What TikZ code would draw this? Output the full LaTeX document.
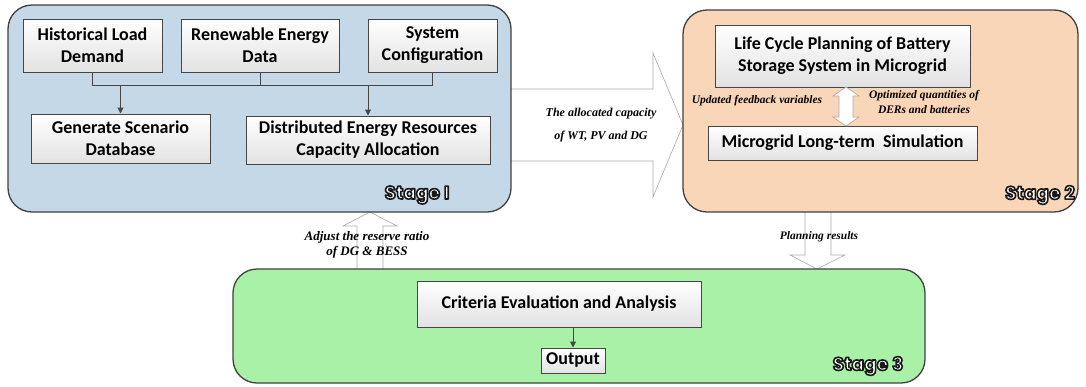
\documentclass[tikz,border=0pt]{standalone}
\usepackage{fontspec}
\setmainfont{Carlito}
\newfontfamily\notefont{Liberation Serif}
\newfontfamily\stagefont{Poppins}
\usetikzlibrary{arrows.meta}

\definecolor{stageonefill}{RGB}{197,216,232}
\definecolor{stagetwofill}{RGB}{249,214,184}
\definecolor{stagethreefill}{RGB}{170,241,168}
\definecolor{stageline}{RGB}{64,64,64}
\definecolor{boxline}{RGB}{70,70,70}
\definecolor{boxgray}{RGB}{226,226,226}
\definecolor{arrowline}{RGB}{170,170,170}

% white lettering with a dark outline for the stage tags
% (fill+stroke text rendering; the node scope restores the graphics state)
\newcommand{\stagetag}[1]{\special{pdf:literal direct 2 Tr 1.6 w 1 j 0.1 0.1 0.1 RG 1 1 1 rg}#1}

\begin{document}
\begin{tikzpicture}[x=1pt,y=-1pt,
  stagebox/.style={draw=stageline, line width=1.3pt, rounded corners=24pt},
  box/.style={draw=boxline, line width=1pt, top color=white, bottom color=boxgray,
    font=\bfseries\fontsize{18}{22}\selectfont, align=center, inner sep=0pt},
  conn/.style={draw=boxline, line width=1pt},
  conna/.style={conn, -{Triangle[length=6pt,width=6pt]}},
  bigarrow/.style={draw=arrowline, line width=0.6pt, fill=white},
  note/.style={font=\notefont\bfseries\itshape\fontsize{11.5}{15}\selectfont, align=center, inner sep=0pt},
  stagelbl/.style={font=\stagefont\bfseries\fontsize{18.5}{20}\selectfont, inner sep=0pt}]

\useasboundingbox (0,0) rectangle (1086,386);

% ---------- wide hollow arrows between the stages ----------
\draw[bigarrow] (505,89) -- (653,89) -- (653,53) -- (683,125) -- (653,197) -- (653,161) -- (505,161);
\draw[bigarrow] (357,275) -- (357,226) -- (343,226) -- (370,212) -- (397,226) -- (383,226) -- (383,275);
\draw[bigarrow] (805,206) -- (805,255) -- (790,255) -- (817,269) -- (845,255) -- (831,255) -- (831,206);

% ---------- stage containers ----------
\draw[stagebox, fill=stageonefill] (8,5) rectangle (511,212);
\draw[stagebox, fill=stagetwofill] (683,10) rectangle (1078,212);
\draw[stagebox, fill=stagethreefill] (233,269) rectangle (925,383);

% ---------- stage 1 ----------
\node[box, minimum width=139pt, minimum height=53pt] (hist) at (92.5,45.5) {Historical Load\\Demand};
\node[box, minimum width=158pt, minimum height=53pt] (ren) at (260,45.5) {Renewable Energy\\Data};
\node[box, minimum width=129pt, minimum height=53pt] (sys) at (432.5,45.5) {System\\Configuration};
\node[box, minimum width=179pt, minimum height=49pt] (gen) at (120.5,138.5) {Generate Scenario\\Database};
\node[box, minimum width=244pt, minimum height=48pt] (der) at (368,140) {Distributed Energy Resources\\Capacity Allocation};

\coordinate (bus) at (0,85);
\draw[conn] (hist.south) -- (hist.south |- bus) -- (sys.south |- bus) -- (sys.south);
\draw[conn] (ren.south) -- (ren.south |- bus);
\draw[conna] (gen.north |- bus) -- (gen.north);
\draw[conna] (der.north |- bus) -- (der.north);

\node[stagelbl] (s1) at (417,195) {\stagetag{Stage I}};

% ---------- stage 2 ----------
\node[box, minimum width=255pt, minimum height=62pt] (lcp) at (842.5,56) {Life Cycle Planning of Battery\\Storage System in Microgrid};
\node[box, minimum width=269pt, minimum height=34pt] (sim) at (842.5,143) {Microgrid Long-term\ \ Simulation};

\coordinate (dtop) at (846,87);
\coordinate (dbot) at (846,126);
\draw[bigarrow] (dtop) -- ++(13,9) -- ++(-6,0) -- ++(0,21) -- ++(6,0) -- (dbot)
  -- ++(-13,-9) -- ++(6,0) -- ++(0,-21) -- ++(-6,0) -- cycle;

\node[note] (fb) at (757,101) {Updated feedback variables};
\node[note] (opt) at (924,102) {Optimized quantities of\\DERs and batteries};

\node[stagelbl] (s2) at (1040,195) {\stagetag{Stage 2}};

% ---------- stage 3 ----------
\node[box, minimum width=284pt, minimum height=46pt] (crit) at (559,304) {Criteria Evaluation and Analysis};
\node[box, minimum width=64pt, minimum height=25pt] (out) at (573,360.5) {Output};
\draw[conna] (crit.south -| out.north) -- (out.north);

\node[stagelbl] (s3) at (868,366) {\stagetag{Stage 3}};

% ---------- arrow captions ----------
\node[note, font=\notefont\bfseries\itshape\fontsize{12}{15}\selectfont] (alloc) at (601,125) {The allocated capacity\\[8pt]of WT, PV and DG};
\node[note, font=\notefont\bfseries\itshape\fontsize{13}{15}\selectfont] (adj) at (367,244.5) {Adjust the reserve ratio\\of DG \& BESS};
\node[note] (plan) at (819,237) {Planning results};
\end{tikzpicture}
\end{document}
